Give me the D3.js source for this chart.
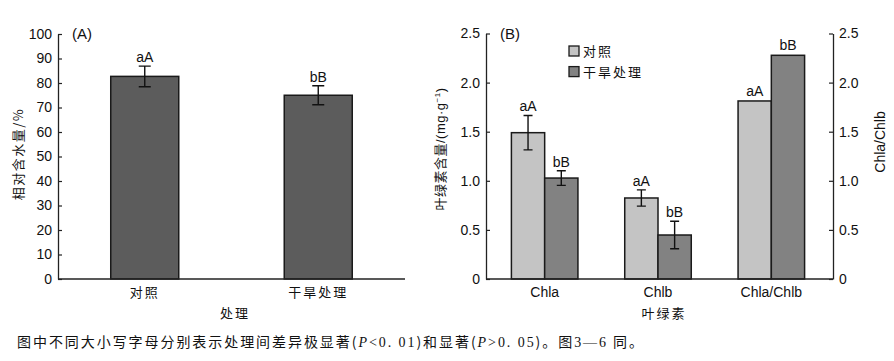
<!DOCTYPE html>
<html><head><meta charset="utf-8">
<script src="https://cdn.jsdelivr.net/npm/d3@7"></script>
<style>
html,body{margin:0;padding:0;background:#fff;}
text{font-family:"Liberation Sans","Noto Sans CJK SC",sans-serif;fill:#111;}
.cjk{font-family:"Noto Sans CJK SC","Liberation Sans",sans-serif;}
</style></head>
<body>
<svg id="c" width="894" height="361"></svg>
<script>
// ---------- data ----------
const catsA = ["对照", "干旱处理"];
const valuesA = [82.7, 75.0];
const errA = [4.2, 3.9];
const sigA = ["aA", "bB"];
const ticksA = [0,10,20,30,40,50,60,70,80,90,100];

const catsB = ["Chla", "Chlb", "Chla/Chlb"];
const seriesB = ["对照", "干旱处理"];
const controlB = [1.49, 0.825, 1.813];
const droughtB = [1.028, 0.448, 2.278];
const controlErrB = [0.175, 0.083, null];
const droughtErrB = [0.075, 0.14, null];
const controlSigB = ["aA", "aA", "aA"];
const droughtSigB = ["bB", "bB", "bB"];
const ticksB = [0, 0.5, 1.0, 1.5, 2.0, 2.5];

const svg = d3.select("#c");
const fTick = "14px";

// ---------- Panel A ----------
const A = {x0:58, x1:405, y0:279, y1:34};
const xA = d3.scaleBand().domain(catsA).range([A.x0, A.x1]).paddingInner(0.608).paddingOuter(0.304);
const yA = d3.scaleLinear().domain([0,100]).range([A.y0, A.y1]);
const gA = svg.append("g");

const axA = gA.append("g").attr("transform",`translate(${A.x0},0)`)
  .call(d3.axisLeft(yA).tickValues(ticksA).tickFormat(d3.format("d")).tickSizeInner(-4).tickSizeOuter(0).tickPadding(6));
axA.select(".domain").attr("stroke","#222").attr("stroke-width",1.3);
axA.selectAll(".tick line").attr("stroke","#222").attr("stroke-width",1.2);
axA.selectAll(".tick text").style("font-size",fTick).attr("fill","#111");

gA.selectAll("rect.bar").data(catsA).join("rect")
  .attr("x", d=>xA(d)).attr("width", xA.bandwidth())
  .attr("y", (d,i)=>yA(valuesA[i])).attr("height",(d,i)=>yA(0)-yA(valuesA[i]))
  .attr("fill","#5c5c5c").attr("stroke","#1a1a1a").attr("stroke-width",1.5);

catsA.forEach((c,i)=>{
  const cx = xA(c)+xA.bandwidth()/2;
  const t = yA(valuesA[i]+errA[i]), b = yA(valuesA[i]-errA[i]);
  gA.append("path").attr("d",`M${cx},${t}V${b}M${cx-6},${t}H${cx+6}M${cx-6},${b}H${cx+6}`)
    .attr("stroke","#111").attr("stroke-width",1.4).attr("fill","none");
  gA.append("text").attr("x",cx).attr("y",t-4).attr("text-anchor","middle").style("font-size","14px").text(sigA[i]);
  gA.append("text").attr("class","cjk").attr("x",cx).attr("y",297).attr("text-anchor","middle")
    .style("font-size","13px").style("letter-spacing","2px").text(c);
});
gA.append("line").attr("x1",A.x0).attr("x2",A.x1).attr("y1",A.y0).attr("y2",A.y0).attr("stroke","#222").attr("stroke-width",1.5);
gA.append("text").attr("class","cjk").attr("x",235).attr("y",318).attr("text-anchor","middle")
  .style("font-size","13px").style("letter-spacing","2px").text("处理");
gA.append("text").attr("class","cjk").attr("transform","translate(23,154) rotate(-90)").attr("text-anchor","middle")
  .style("font-size","13px").style("letter-spacing","1.5px").text("相对含水量/%");
gA.append("text").attr("x",72).attr("y",39).style("font-size","15px").text("(A)");

// ---------- Panel B ----------
const B = {x0:486, x1:833, y0:279, y1:33.5};
const xB = d3.scaleBand().domain(catsB).range([488, 828]).paddingInner(0.413).paddingOuter(0.2065);
const xSub = d3.scaleBand().domain(seriesB).range([0, xB.bandwidth()]);
const yB = d3.scaleLinear().domain([0,2.5]).range([B.y0, B.y1]);
const yR = d3.scaleLinear().domain([0,2.5]).range([B.y0, B.y1]);
const gB = svg.append("g");
const fmtB = d=> d===0 ? "0" : d3.format(".1f")(d);

const axL = gB.append("g").attr("transform",`translate(${B.x0},0)`)
  .call(d3.axisLeft(yB).tickValues(ticksB).tickFormat(fmtB).tickSizeInner(-4).tickSizeOuter(0).tickPadding(6));
const axR = gB.append("g").attr("transform",`translate(${B.x1},0)`)
  .call(d3.axisRight(yR).tickValues(ticksB).tickFormat(fmtB).tickSizeInner(-4).tickSizeOuter(0).tickPadding(6));
[axL,axR].forEach(ax=>{
  ax.select(".domain").attr("stroke","#222").attr("stroke-width",1.3);
  ax.selectAll(".tick line").attr("stroke","#222").attr("stroke-width",1.2);
  ax.selectAll(".tick text").style("font-size",fTick).attr("fill","#111");
});

const colors = {"对照":"#c4c4c4","干旱处理":"#828282"};
const vals = {"对照":controlB,"干旱处理":droughtB};
const errs = {"对照":controlErrB,"干旱处理":droughtErrB};
const sigs = {"对照":controlSigB,"干旱处理":droughtSigB};

catsB.forEach((c,i)=>{
  seriesB.forEach(s=>{
    const sc = (c==="Chla/Chlb") ? yR : yB;
    const v = vals[s][i];
    const x = xB(c)+xSub(s), w = xSub.bandwidth();
    gB.append("rect").attr("x",x).attr("width",w).attr("y",sc(v)).attr("height",sc(0)-sc(v))
      .attr("fill",colors[s]).attr("stroke","#1a1a1a").attr("stroke-width",1.5);
    const e = errs[s][i];
    const cx = x+w/2;
    let top = sc(v);
    if (e!=null){
      const t = sc(v+e), b = sc(v-e);
      gB.append("path").attr("d",`M${cx},${t}V${b}M${cx-4.5},${t}H${cx+4.5}M${cx-4.5},${b}H${cx+4.5}`)
        .attr("stroke","#111").attr("stroke-width",1.4).attr("fill","none");
      top = t;
    } else top = sc(v)-1;
    gB.append("text").attr("x",cx).attr("y",top-4).attr("text-anchor","middle").style("font-size","14px").text(sigs[s][i]);
  });
  gB.append("text").attr("x",xB(c)+xB.bandwidth()/2).attr("y",297).attr("text-anchor","middle")
    .style("font-size","14px").text(c);
});
gB.append("line").attr("x1",B.x0).attr("x2",B.x1).attr("y1",B.y0).attr("y2",B.y0).attr("stroke","#222").attr("stroke-width",1.5);
gB.append("text").attr("class","cjk").attr("x",664).attr("y",318).attr("text-anchor","middle")
  .style("font-size","13px").style("letter-spacing","2px").text("叶绿素");
gB.append("text").attr("transform","translate(445,149) rotate(-90)").attr("text-anchor","middle")
  .style("font-size","13px").style("letter-spacing","0.5px")
  .html('<tspan class="cjk">叶绿素含量</tspan>/(mg·g<tspan dy="-5" style="font-size:8px">−1</tspan><tspan dy="5">)</tspan>');
gB.append("text").attr("transform","translate(885,142) rotate(-90)").attr("text-anchor","middle")
  .style("font-size","14px").text("Chla/Chlb");
gB.append("text").attr("x",500).attr("y",39).style("font-size","15px").text("(B)");

// legend
seriesB.forEach((s,i)=>{
  const y = 51 + i*20.6;
  gB.append("rect").attr("x",569).attr("y",y-5).attr("width",10).attr("height",10)
    .attr("fill",colors[s]).attr("stroke","#1a1a1a").attr("stroke-width",1.3);
  gB.append("text").attr("class","cjk").attr("x",583).attr("y",y+5).style("font-size","13px").style("letter-spacing","2px").text(s);
});

// caption
svg.append("text").attr("x",17).attr("y",347).attr("textLength",626).attr("lengthAdjust","spacing")
  .style("font-size","14px").style("font-family",'"Noto Sans CJK SC","Liberation Serif",serif')
  .html('图中不同大小写字母分别表示处理间差异极显著(<tspan style="font-family:Liberation Serif;font-style:italic">P</tspan><tspan style="font-family:Liberation Serif">&lt;0. 01</tspan>)和显著(<tspan style="font-family:Liberation Serif;font-style:italic">P</tspan><tspan style="font-family:Liberation Serif">&gt;0. 05</tspan>)。图<tspan style="font-family:Liberation Serif">3—6</tspan> 同。');
</script>
</body></html>
